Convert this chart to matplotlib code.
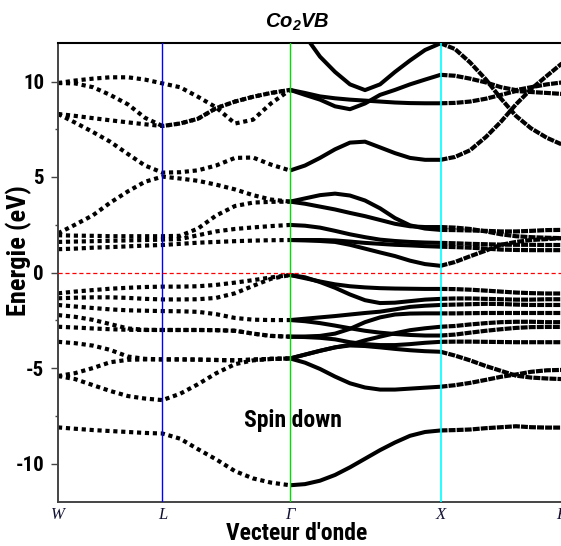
import matplotlib
matplotlib.use("Agg")
import matplotlib.pyplot as plt
from matplotlib.ticker import MultipleLocator
from matplotlib import font_manager

plt.rcParams['lines.scale_dashes'] = False
plt.rcParams['axes.unicode_minus'] = False
plt.rcParams['mathtext.fontset'] = 'custom'
plt.rcParams['mathtext.bf'] = 'Liberation Sans:italic:bold'
plt.rcParams['mathtext.rm'] = 'Liberation Sans:italic:bold'

names = {f.name for f in font_manager.fontManager.ttflist}
SANS, SHRINK = 'Liberation Sans', 0.84
for cand in ['Liberation Sans Narrow', 'Arial Narrow', 'Roboto Condensed',
             'DejaVu Sans Condensed', 'Open Sans Condensed']:
    if cand in names:
        SANS, SHRINK = cand, 1.0
        break

# ---------------- data ----------------
# high-symmetry points (k in units of 2*pi/a, along the path)
kpt_labels = ['W', 'L', 'Γ', 'X', 'K']
kpt_pos = [0.0, 0.694, 1.542, 2.542, 3.349]

# k grid W -> L -> Gamma
k_WG = [0.0, 0.113, 0.233, 0.346, 0.465, 0.578, 0.694,
        0.811, 0.930, 1.050, 1.176, 1.296, 1.415, 1.542]
# k grid Gamma -> X -> K
k_GK = [1.542, 1.641, 1.741, 1.841, 1.940, 2.040, 2.140, 2.239, 2.339, 2.439, 2.542,
        2.638, 2.738, 2.844, 2.944, 3.043, 3.143, 3.249, 3.349]

# lowest (s-like) band
core_WG = [-8.11, -8.18, -8.25, -8.3, -8.35, -8.4, -8.43, -8.7, -9.25, -9.78, -10.4, -10.78, -11.0, -11.14]
core_GK = [-11.14, -11.08, -10.9, -10.6, -10.2, -9.75, -9.3, -8.9, -8.55, -8.35, -8.27,
           -8.25, -8.22, -8.15, -8.1, -8.05, -8.1, -8.12, -8.12]

# valence bands, W -> L -> Gamma
valence_WG = [
    [-1.09, -1.0, -0.92, -0.85, -0.8, -0.76, -0.74, -0.74, -0.72, -0.65, -0.53, -0.40, -0.26, -0.13],
    [-1.35, -1.32, -1.3, -1.3, -1.33, -1.38, -1.41, -1.41, -1.40, -1.33, -1.09, -0.7, -0.33, -0.13],
    [-1.7, -1.78, -1.86, -1.93, -1.98, -2.0, -2.02, -2.03, -2.06, -2.18, -2.38, -2.47, -2.49, -2.49],
    [-2.23, -2.32, -2.48, -2.7, -2.93, -3.0, -3.01, -3.01, -3.01, -3.02, -3.05, -3.2, -3.32, -3.36],
    [-2.84, -2.88, -2.93, -2.97, -3.0, -3.01, -3.01, -3.01, -3.01, -3.02, -3.05, -3.2, -3.32, -3.36],
    [-3.63, -3.7, -3.83, -4.05, -4.4, -4.52, -4.55, -4.55, -4.56, -4.58, -4.6, -4.56, -4.52, -4.5],
    [-5.42, -5.27, -5.0, -4.7, -4.57, -4.55, -4.55, -4.55, -4.56, -4.58, -4.6, -4.56, -4.52, -4.5],
    [-5.42, -5.58, -5.9, -6.2, -6.47, -6.6, -6.68, -6.35, -5.85, -5.28, -4.8, -4.6, -4.53, -4.5],
]
# valence bands, Gamma -> X -> K
valence_GK = [
    [-0.13, -0.3, -0.47, -0.62, -0.72, -0.78, -0.82, -0.84, -0.85, -0.86, -0.86, -0.87, -0.9, -0.95, -1.0, -1.05, -1.08, -1.1, -1.1],
    [-0.13, -0.25, -0.5, -0.8, -1.15, -1.45, -1.6, -1.58, -1.5, -1.42, -1.38, -1.36, -1.36, -1.38, -1.4, -1.42, -1.42, -1.4, -1.4],
    [-2.49, -2.42, -2.35, -2.28, -2.2, -2.12, -2.05, -1.93, -1.8, -1.74, -1.7, -1.68, -1.66, -1.64, -1.65, -1.68, -1.7, -1.7, -1.7],
    [-2.49, -2.55, -2.65, -2.78, -2.92, -3.05, -3.15, -3.22, -3.27, -3.3, -3.3, -3.25, -3.15, -3.05, -2.97, -2.9, -2.86, -2.85, -2.85],
    [-3.36, -3.35, -3.32, -3.2, -2.95, -2.6, -2.35, -2.2, -2.15, -2.14, -2.14, -2.14, -2.13, -2.12, -2.12, -2.12, -2.12, -2.12, -2.12],
    [-3.36, -3.38, -3.42, -3.5, -3.65, -3.75, -3.8, -3.8, -3.75, -3.68, -3.63, -3.62, -3.62, -3.63, -3.64, -3.65, -3.65, -3.65, -3.65],
    [-4.5, -4.3, -4.1, -3.92, -3.82, -3.85, -3.92, -4.0, -4.07, -4.12, -4.15, -4.35, -4.6, -4.9, -5.15, -5.4, -5.5, -5.55, -5.58],
    [-4.5, -4.72, -5.05, -5.45, -5.8, -6.02, -6.13, -6.13, -6.08, -6.03, -5.98, -5.9, -5.78, -5.62, -5.46, -5.34, -5.2, -5.12, -5.1],
    [-4.5, -4.3, -4.1, -3.92, -3.78, -3.55, -3.36, -3.18, -3.02, -2.92, -2.84, -2.8, -2.72, -2.65, -2.6, -2.58, -2.58, -2.6, -2.6],
]

# conduction bands, W -> L -> Gamma
conduction_WG = [
    [1.22, 1.25, 1.3, 1.33, 1.37, 1.41, 1.44, 1.5, 1.56, 1.6, 1.64, 1.67, 1.69, 1.70],
    [1.6, 1.62, 1.64, 1.66, 1.68, 1.7, 1.72, 1.75, 1.95, 2.15, 2.28, 2.36, 2.43, 2.49],
    [1.95, 1.93, 1.92, 1.9, 1.9, 1.9, 1.9, 1.92, 2.3, 2.98, 3.48, 3.66, 3.7, 3.71],
    [2.05, 2.5, 3.0, 3.65, 4.25, 4.75, 5.02, 4.92, 4.8, 4.6, 4.35, 4.05, 3.82, 3.71],
    [8.3, 7.85, 7.35, 6.85, 6.2, 5.6, 5.23, 5.25, 5.35, 5.6, 6.0, 6.02, 5.65, 5.34],
    [9.92, 10.05, 10.15, 10.22, 10.22, 10.1, 9.9, 9.7, 9.2, 8.65, 7.8, 8.0, 8.85, 9.56],
    [9.92, 9.9, 9.7, 9.3, 8.8, 8.1, 7.67, 7.8, 8.05, 8.6, 8.95, 9.2, 9.4, 9.56],
    [8.3, 8.2, 8.08, 7.97, 7.86, 7.76, 7.67, 7.8, 8.05, 8.6, 8.95, 9.2, 9.4, 9.56],
]
# conduction bands, Gamma -> X -> K
conduction_GK = [
    [1.70, 1.68, 1.65, 1.6, 1.45, 1.25, 1.05, 0.86, 0.62, 0.44, 0.35, 0.55, 0.85, 1.15, 1.45, 1.6, 1.7, 1.75, 1.8],
    [1.70, 1.7, 1.7, 1.68, 1.62, 1.55, 1.5, 1.45, 1.42, 1.38, 1.35, 1.33, 1.3, 1.25, 1.2, 1.18, 1.17, 1.17, 1.17],
    [2.49, 2.45, 2.35, 2.18, 2.0, 1.85, 1.72, 1.65, 1.6, 1.57, 1.55, 1.53, 1.5, 1.48, 1.46, 1.45, 1.45, 1.44, 1.44],
    [3.71, 3.88, 4.05, 4.13, 4.03, 3.77, 3.36, 2.85, 2.47, 2.3, 2.23, 2.22, 2.2, 2.18, 2.15, 2.15, 2.18, 2.22, 2.23],
    [3.71, 3.6, 3.45, 3.3, 3.12, 2.95, 2.75, 2.55, 2.42, 2.38, 2.38, 2.35, 2.28, 2.15, 2.0, 1.9, 1.85, 1.82, 1.8],
    [5.34, 5.6, 6.0, 6.45, 6.8, 6.85, 6.55, 6.25, 6.0, 5.9, 5.9, 6.05, 6.4, 7.1, 7.9, 8.8, 9.6, 10.3, 10.95],
    [9.56, 9.3, 9.05, 8.7, 8.55, 8.85, 9.3, 9.56, 9.85, 10.1, 10.35, 10.3, 10.15, 9.95, 9.7, 9.55, 9.7, 9.85, 9.95],
    [9.56, 9.4, 9.22, 9.12, 9.05, 9.0, 8.95, 8.9, 8.87, 8.86, 8.86, 8.88, 8.95, 9.1, 9.3, 9.5, 9.45, 9.4, 9.35],
    [14.0, 12.4, 11.3, 10.5, 9.85, 9.55, 9.85, 10.5, 11.1, 11.65, 12.0, 11.7, 11.0, 10.1, 9.1, 8.2, 7.55, 7.05, 6.7],
]

title_text = r'$\mathbf{Co_2VB}$'
ylabel_text = 'Energie (eV)'
xlabel_text = "Vecteur d'onde"
annot_text = 'Spin down'
yticks = [-10, -5, 0, 5, 10]

# ---------------- figure ----------------
FW, FH = 561, 546
fig = plt.figure(figsize=(FW / 100, FH / 100), dpi=100)
ax = fig.add_axes([58 / FW, (FH - 501.7) / FH, (562 - 58) / FW, (501.7 - 43.3) / FH])
ax.set_xlim(kpt_pos[0], kpt_pos[-1])
ax.set_ylim(-12, 12)

BAND_KW = dict(color='black', zorder=2)


def draw_WG(e):
    ax.plot(k_WG, e, lw=3.0, ls=(0, (3.0, 2.7)), dash_capstyle='butt', **BAND_KW)


def draw_GK(e):
    ax.plot(k_GK[:11], e[:11], lw=2.9, solid_capstyle='butt', **BAND_KW)
    ax.plot(k_GK[10:], e[10:], lw=3.0, ls=(0, (5.0, 0.8)), dash_capstyle='butt', **BAND_KW)


draw_WG(core_WG)
draw_GK(core_GK)
for b in valence_WG + conduction_WG:
    draw_WG(b)
for b in valence_GK + conduction_GK:
    draw_GK(b)

# symmetry lines and Fermi level
ax.axvline(kpt_pos[1], color='#0000ff', lw=1.0, zorder=3)
ax.axvline(kpt_pos[2], color='#00e000', lw=1.0, zorder=3)
ax.axvline(kpt_pos[3], color='#00ffff', lw=1.2, zorder=3)
ax.axhline(0, color='#ff0000', lw=0.9, ls=(0, (3.0, 2.0)), zorder=3)

# axes styling
for s in ['left', 'bottom']:
    ax.spines[s].set_color('#444444')
    ax.spines[s].set_linewidth(1.4)
ax.spines['top'].set_color('black')
ax.spines['top'].set_linewidth(1.5)
ax.spines['right'].set_visible(False)

ax.set_yticks(yticks)
ax.set_yticklabels([str(t) for t in yticks], fontfamily=SANS, fontweight='bold',
                   fontsize=15 * SHRINK)
ax.yaxis.set_minor_locator(MultipleLocator(2.5))
ax.tick_params(axis='y', which='major', direction='out', length=5, width=1.0,
               pad=5, color='#444444')
ax.tick_params(axis='y', which='minor', direction='out', length=2.5, width=1.0,
               color='#444444')

ax.set_xticks(kpt_pos)
ax.set_xticklabels(kpt_labels, fontfamily='Liberation Serif', fontstyle='italic',
                   fontsize=12, color='#111133')
ax.tick_params(axis='x', length=0, pad=4)

# texts
fig.text(297 / FW, 1 - 22 / FH, title_text, ha='center', va='center', fontsize=14.5)
fig.text(297 / FW, 1 - 534 / FH, xlabel_text, ha='center', va='center',
         fontfamily=SANS, fontweight='bold', fontsize=17 * SHRINK)
fig.text(19 / FW, 1 - 251 / FH, ylabel_text, ha='center', va='center', rotation=90,
         fontfamily=SANS, fontweight='bold', fontsize=19 * SHRINK)
fig.text(293 / FW, 1 - 420 / FH, annot_text, ha='center', va='center',
         fontfamily=SANS, fontweight='bold', fontsize=17 * SHRINK)

fig.savefig('out.png', dpi=100)
